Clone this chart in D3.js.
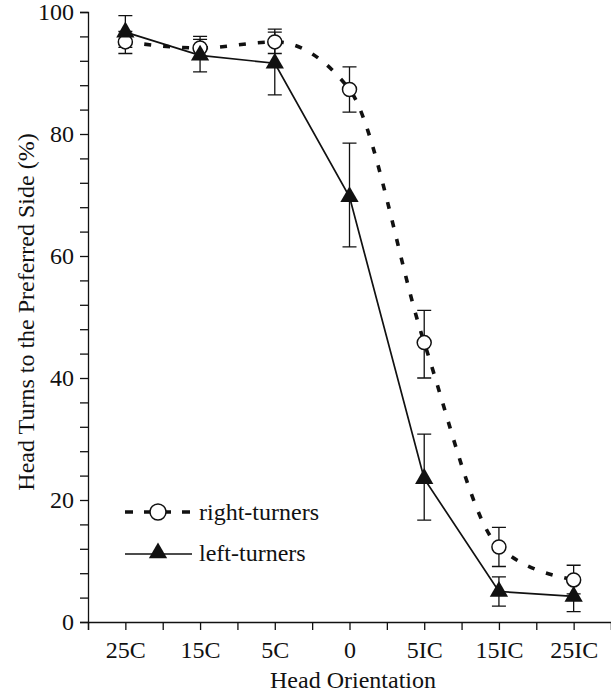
<!DOCTYPE html>
<html>
<head>
<meta charset="utf-8">
<script src="https://cdn.jsdelivr.net/npm/d3@7"></script>
<style>
	body { margin: 0; background: #fff; }
	text { font-family: "Liberation Serif", "Times New Roman", serif; fill: #111; }
</style>
</head>
<body>
<svg id="chart" width="611" height="693"></svg>
<script>
const categories = ['25C', '15C', '5C', '0', '5IC', '15IC', '25IC']

const rightMean = [95.1, 94.1, 95.1, 87.3, 45.8, 12.3, 6.9]
const rightLo = [93.2, 92.4, 93.2, 83.6, 40.0, 9.1, 4.6]
const rightHi = [96.8, 96.0, 97.2, 91.0, 51.1, 15.5, 9.3]

const leftMean = [96.7, 92.9, 91.6, 69.7, 23.5, 5.0, 4.2]
const leftLo = [94.2, 90.2, 86.4, 61.5, 16.7, 2.6, 1.7]
const leftHi = [99.4, 95.5, 96.7, 78.5, 30.8, 7.4, 6.7]

const yTicks = [0, 20, 40, 60, 80, 100]

const svg = d3.select('#chart')

const x = d3.scaleLinear().domain([-0.5, categories.length - 0.5]).range([88, 611])
const y = d3.scaleLinear().domain([0, 100]).range([622, 12])

const toPoints = (mean, lo, hi) => mean.map((m, i) => ({ i, m, lo: lo[i], hi: hi[i] }))
const right = toPoints(rightMean, rightLo, rightHi)
const left = toPoints(leftMean, leftLo, leftHi)

// axes
const yAxis = d3.axisLeft(y)
	.tickValues(d3.range(0, 101, 4))
	.tickSize(8)
	.tickPadding(6)
	.tickFormat(d => yTicks.includes(d) ? d : '')

const xAxis = d3.axisBottom(x)
	.tickValues(d3.range(-0.5, categories.length - 0.49, 0.5))
	.tickSize(8)
	.tickPadding(6)
	.tickFormat(d => Number.isInteger(d) ? categories[d] : '')

const gy = svg.append('g').attr('transform', 'translate(88,0)').call(yAxis)
const gx = svg.append('g').attr('transform', 'translate(0,622)').call(xAxis)

;[gx, gy].forEach(g => {
	g.select('.domain').attr('stroke', '#111').attr('stroke-width', 1.3)
	g.selectAll('.tick line').attr('stroke', '#111').attr('stroke-width', 1.3)
	g.selectAll('.tick text')
		.style('font-family', '"Liberation Serif", "Times New Roman", serif')
		.style('font-size', '24px')
		.attr('fill', '#111')
})
gx.selectAll('.tick text').attr('dy', '0.9em')

svg.append('text')
	.attr('x', 353)
	.attr('y', 688)
	.attr('text-anchor', 'middle')
	.style('font-size', '24px')
	.text('Head Orientation')

svg.append('text')
	.attr('transform', 'translate(34,312) rotate(-90)')
	.attr('text-anchor', 'middle')
	.style('font-size', '24px')
	.text('Head Turns to the Preferred Side (%)')

// lines
const dashed = d3.line()
	.x(d => x(d.i))
	.y(d => y(d.m))
	.curve(d3.curveMonotoneX)

const solid = d3.line()
	.x(d => x(d.i))
	.y(d => y(d.m))

svg.append('path')
	.datum(right)
	.attr('d', dashed)
	.attr('fill', 'none')
	.attr('stroke', '#111')
	.attr('stroke-width', 3.6)
	.attr('stroke-dasharray', '7,12')

svg.append('path')
	.datum(left)
	.attr('d', solid)
	.attr('fill', 'none')
	.attr('stroke', '#111')
	.attr('stroke-width', 1.7)

// error bars
const drawErrors = (data) => {
	const g = svg.append('g').attr('stroke', '#111').attr('stroke-width', 1.3)
	g.selectAll('.bar')
		.data(data)
		.enter()
		.append('path')
		.attr('fill', 'none')
		.attr('d', d => {
			const cx = x(d.i)
			return `M${cx},${y(d.lo)}V${y(d.hi)}` +
				`M${cx - 7},${y(d.lo)}H${cx + 7}` +
				`M${cx - 7},${y(d.hi)}H${cx + 7}`
		})
}
drawErrors(right)
drawErrors(left)

// markers
svg.append('g')
	.selectAll('circle')
	.data(right)
	.enter()
	.append('circle')
	.attr('cx', d => x(d.i))
	.attr('cy', d => y(d.m))
	.attr('r', 7)
	.attr('fill', '#fff')
	.attr('stroke', '#111')
	.attr('stroke-width', 1.5)

const tri = d3.symbol().type(d3.symbolTriangle).size(145)

svg.append('g')
	.selectAll('path')
	.data(left)
	.enter()
	.append('path')
	.attr('d', tri)
	.attr('transform', d => `translate(${x(d.i)},${y(d.m)})`)
	.attr('fill', '#111')

// legend
const legend = svg.append('g')

legend.append('line')
	.attr('x1', 125).attr('x2', 190)
	.attr('y1', 512).attr('y2', 512)
	.attr('stroke', '#111')
	.attr('stroke-width', 3.6)
	.attr('stroke-dasharray', '8,11')

legend.append('circle')
	.attr('cx', 158).attr('cy', 512).attr('r', 8)
	.attr('fill', '#fff').attr('stroke', '#111').attr('stroke-width', 1.5)

legend.append('text')
	.attr('x', 199).attr('y', 520)
	.style('font-size', '24px')
	.text('right-turners')

legend.append('line')
	.attr('x1', 125).attr('x2', 192)
	.attr('y1', 554).attr('y2', 554)
	.attr('stroke', '#111')
	.attr('stroke-width', 1.7)

legend.append('path')
	.attr('d', tri)
	.attr('transform', 'translate(158,553)')
	.attr('fill', '#111')

legend.append('text')
	.attr('x', 199).attr('y', 561)
	.style('font-size', '24px')
	.text('left-turners')
</script>
</body>
</html>
